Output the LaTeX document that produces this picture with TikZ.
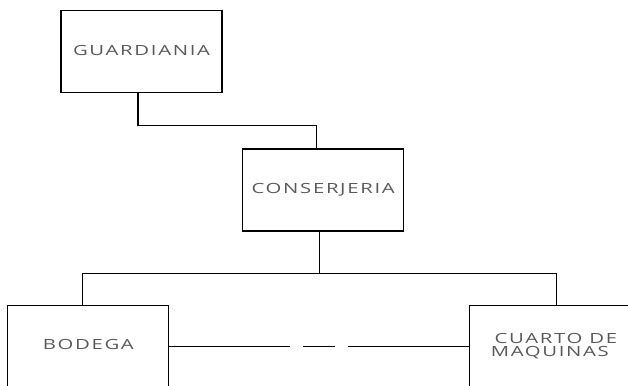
\documentclass[tikz,border=0pt]{standalone}
\usepackage{fontspec}
\newfontfamily\roomfont{Open Sans}[FakeStretch=1.45, LetterSpace=12]
\usetikzlibrary{calc, positioning}

\begin{document}
\begin{tikzpicture}[x=1pt, y=-1pt,
    room/.style={draw, line width=1.3pt, minimum width=161pt, minimum height=82pt,
      inner sep=0pt, align=center, text=black!65,
      font=\roomfont\fontsize{14}{13.5}\selectfont},
    link/.style={line width=1.3pt}
  ]
  \useasboundingbox (0,0) rectangle (628,385);
  \clip (0,0) rectangle (628,385);

  \node[room] (guard) at (141.5,51.5)  {\raisebox{3pt}{GUARDIANIA}};
  \node[room] (cons)  at (323.2,190)   {\raisebox{3pt}{CONSERJERIA}};
  \node[room] (bod)   at (88.3,346.3)  {\raisebox{3pt}{BODEGA}};
  \node[room] (maq)   at (549.8,346.3) {\hspace*{12pt}CUARTO DE\\MAQUINAS};

  \coordinate (bus) at (0,273.3);            % level of the branch line
  \coordinate (bL)  at ($(bod.north)+(-6,0)$);
  \coordinate (bR)  at ($(maq.north)+(7,0)$);
  \coordinate (cS)  at ($(cons.south)+(-4,0)$);

  \draw[link] ([xshift=-3.5pt]guard.south) -- ++(0,32) -| ([xshift=-7pt]cons.north);
  \draw[link] (cS) -- (cS |- bus);
  \draw[link] (bL) -- (bL |- bus) -- (bR |- bus) -- (bR);

  \draw[link, dash pattern=on 121pt off 13pt on 32pt off 13pt on 200pt]
    (bod.east) -- (maq.west);
\end{tikzpicture}
\end{document}
